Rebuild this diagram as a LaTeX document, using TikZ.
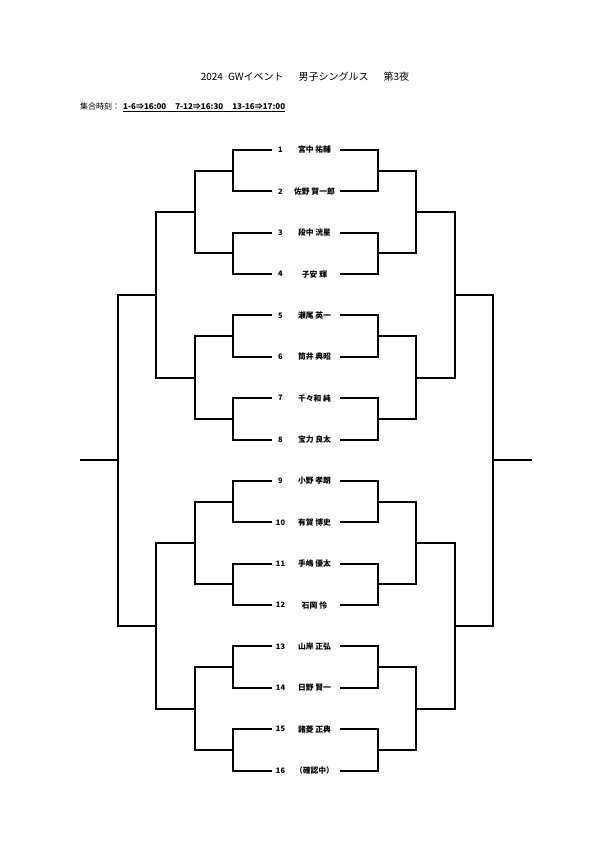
\documentclass[tikz,border=0pt]{standalone}
\usepackage{fontspec}
\setmainfont{Noto Sans CJK JP}
\usetikzlibrary{calc}

\begin{document}
\begin{tikzpicture}[
		x=1pt, y=-1pt,
		ln/.style={line width=2pt, line join=miter},
		num/.style={font=\fontsize{7.5}{9}\selectfont\bfseries, inner sep=0pt},
		plyr/.style={font=\fontsize{7.8}{9}\selectfont\bfseries, inner sep=0pt},
		hdr/.style={font=\fontsize{10}{12}\selectfont, inner sep=0pt},
		sub/.style={font=\fontsize{8}{10}\selectfont, inner sep=0pt, anchor=west}
	]
	% page frame, A4-like, so the sheet keeps its white margins
	\useasboundingbox (0,0) rectangle (600,849);

	% header
	\node[hdr] (title) at (305,77)
		{2024\hspace{5pt}GWイベント\hspace{15pt}男子シングルス\hspace{15pt}第3夜};
	\node[sub] (times) at (80,107)
		{集合時刻：\hspace{3pt}\underline{\textbf{1-6⇒16:00\hspace{9pt}7-12⇒16:30\hspace{9pt}13-16⇒17:00}}};

	% seed numbers and names down the middle; la/ra are the ends of each player line
	\def\gap{41.37}
	\foreach \i/\nm in {1/宮中 祐輔, 2/佐野 賀一郎, 3/段中 洸星, 4/子安 輝,
			5/瀬尾 英一, 6/筒井 典昭, 7/千々和 純, 8/宝力 良太,
			9/小野 孝朗, 10/有賀 博史, 11/手嶋 優太, 12/石岡 怜,
			13/山岸 正弘, 14/日野 賢一, 15/諸菱 正典, 16/（確認中）} {
		\pgfmathsetmacro\yy{150+(\i-1)*\gap}
		\node[num] (n\i) at (280.5,\yy) {\i};
		\node[plyr] (m\i) at (314.5,\yy) {\nm};
		\coordinate (la\i) at ($(n\i)+(-9,0)$);
		\coordinate (ra\i) at ($(m\i)+(25,0)$);
	}

	% bracket steps, 38.4 wide on each side
	\def\d{38.4}

	% round 1
	\foreach \k in {1,...,8} {
		\pgfmathtruncatemacro\a{2*\k-1}
		\pgfmathtruncatemacro\b{2*\k}
		\draw[ln] (la\a) -- ++(-\d,0) |- (la\b);
		\draw[ln] (ra\a) -- ++(\d,0) |- (ra\b);
		\coordinate (lb\k) at ($(la\a)!.5!(la\b)+(-\d,0)$);
		\coordinate (rb\k) at ($(ra\a)!.5!(ra\b)+(\d,0)$);
	}
	% round 2
	\foreach \k in {1,...,4} {
		\pgfmathtruncatemacro\a{2*\k-1}
		\pgfmathtruncatemacro\b{2*\k}
		\draw[ln] (lb\a) -- ++(-\d,0) |- (lb\b);
		\draw[ln] (rb\a) -- ++(\d,0) |- (rb\b);
		\coordinate (lc\k) at ($(lb\a)!.5!(lb\b)+(-\d,0)$);
		\coordinate (rc\k) at ($(rb\a)!.5!(rb\b)+(\d,0)$);
	}
	% semi-finals
	\foreach \k in {1,2} {
		\pgfmathtruncatemacro\a{2*\k-1}
		\pgfmathtruncatemacro\b{2*\k}
		\draw[ln] (lc\a) -- ++(-\d,0) |- (lc\b);
		\draw[ln] (rc\a) -- ++(\d,0) |- (rc\b);
		\coordinate (ld\k) at ($(lc\a)!.5!(lc\b)+(-\d,0)$);
		\coordinate (rd\k) at ($(rc\a)!.5!(rc\b)+(\d,0)$);
	}
	% final, with the winner stub on both sides
	\draw[ln] (ld1) -- ++(-\d,0) |- (ld2);
	\draw[ln] (rd1) -- ++(\d,0) |- (rd2);
	\coordinate (lwin) at ($(ld1)!.5!(ld2)+(-\d,0)$);
	\coordinate (rwin) at ($(rd1)!.5!(rd2)+(\d,0)$);
	\draw[ln] (lwin) -- ++(-\d,0);
	\draw[ln] (rwin) -- ++(\d,0);
\end{tikzpicture}
\end{document}
